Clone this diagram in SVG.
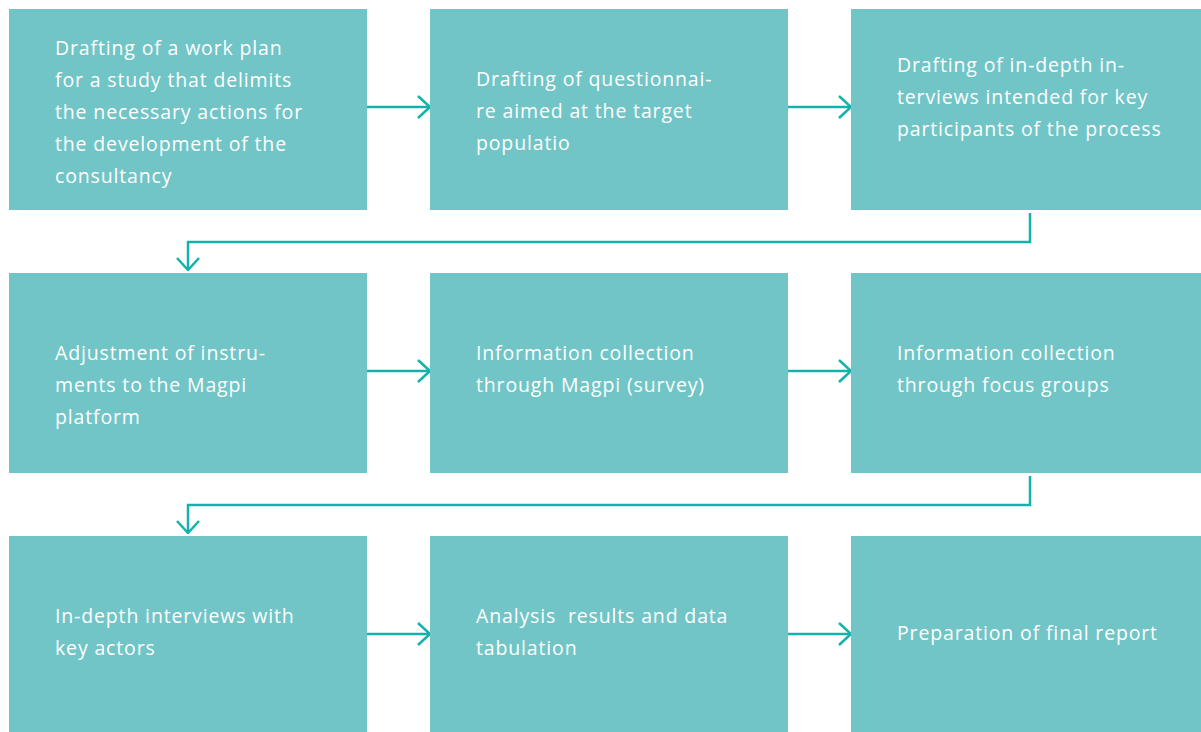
<svg xmlns="http://www.w3.org/2000/svg" width="1201" height="732" viewBox="0 0 1201 732">
  <defs>
    <style>
      .box { fill: #71C5C6; }
      .lbl { fill: #ffffff; font-family: "Open Sans", "Liberation Sans", sans-serif; font-size: 19.5px; letter-spacing: 0.85px; }
      .wire { fill: none; stroke: #13B3AB; stroke-width: 2.5; }
    </style>
    <marker id="chev" viewBox="0 0 14 24" refX="13" refY="12" markerWidth="14" markerHeight="24" markerUnits="userSpaceOnUse" orient="auto">
      <path d="M1,1 L13,12 L1,23" fill="none" stroke="#13B3AB" stroke-width="2.5"/>
    </marker>
  </defs>
  <rect width="1201" height="732" fill="#ffffff"/>

  <g id="connectors">
    <line class="wire" x1="367" y1="107" x2="430" y2="107" marker-end="url(#chev)"/>
    <line class="wire" x1="788" y1="107" x2="851" y2="107" marker-end="url(#chev)"/>
    <polyline class="wire" points="1030,213 1030,242 188,242 188,270" marker-end="url(#chev)"/>
    <line class="wire" x1="367" y1="371" x2="430" y2="371" marker-end="url(#chev)"/>
    <line class="wire" x1="788" y1="371" x2="851" y2="371" marker-end="url(#chev)"/>
    <polyline class="wire" points="1030,476 1030,505 188,505 188,533" marker-end="url(#chev)"/>
    <line class="wire" x1="367" y1="634" x2="430" y2="634" marker-end="url(#chev)"/>
    <line class="wire" x1="788" y1="634" x2="851" y2="634" marker-end="url(#chev)"/>
  </g>

  <g id="step1">
    <rect class="box" x="9" y="9" width="358" height="201"/>
    <text class="lbl" x="55" y="55">Drafting of a work plan</text>
    <text class="lbl" x="55" y="87">for a study that delimits</text>
    <text class="lbl" x="55" y="119">the necessary actions for</text>
    <text class="lbl" x="55" y="151">the development of the</text>
    <text class="lbl" x="55" y="183">consultancy</text>
  </g>
  <g id="step2">
    <rect class="box" x="430" y="9" width="358" height="201"/>
    <text class="lbl" x="476" y="86">Drafting of questionnai-</text>
    <text class="lbl" x="476" y="118">re aimed at the target</text>
    <text class="lbl" x="476" y="150">populatio</text>
  </g>
  <g id="step3">
    <rect class="box" x="851" y="9" width="350" height="201"/>
    <text class="lbl" x="897" y="72">Drafting of in-depth in-</text>
    <text class="lbl" x="897" y="104">terviews intended for key</text>
    <text class="lbl" x="897" y="136">participants of the process</text>
  </g>

  <g id="step4">
    <rect class="box" x="9" y="273" width="358" height="200"/>
    <text class="lbl" x="55" y="360">Adjustment of instru-</text>
    <text class="lbl" x="55" y="392">ments to the Magpi</text>
    <text class="lbl" x="55" y="424">platform</text>
  </g>
  <g id="step5">
    <rect class="box" x="430" y="273" width="358" height="200"/>
    <text class="lbl" x="476" y="360">Information collection</text>
    <text class="lbl" x="476" y="392">through Magpi (survey)</text>
  </g>
  <g id="step6">
    <rect class="box" x="851" y="273" width="350" height="200"/>
    <text class="lbl" x="897" y="360">Information collection</text>
    <text class="lbl" x="897" y="392">through focus groups</text>
  </g>

  <g id="step7">
    <rect class="box" x="9" y="536" width="358" height="196"/>
    <text class="lbl" x="55" y="623">In-depth interviews with</text>
    <text class="lbl" x="55" y="655">key actors</text>
  </g>
  <g id="step8">
    <rect class="box" x="430" y="536" width="358" height="196"/>
    <text class="lbl" x="476" y="623" xml:space="preserve">Analysis  results and data</text>
    <text class="lbl" x="476" y="655">tabulation</text>
  </g>
  <g id="step9">
    <rect class="box" x="851" y="536" width="350" height="196"/>
    <text class="lbl" x="897" y="640">Preparation of final report</text>
  </g>
</svg>
